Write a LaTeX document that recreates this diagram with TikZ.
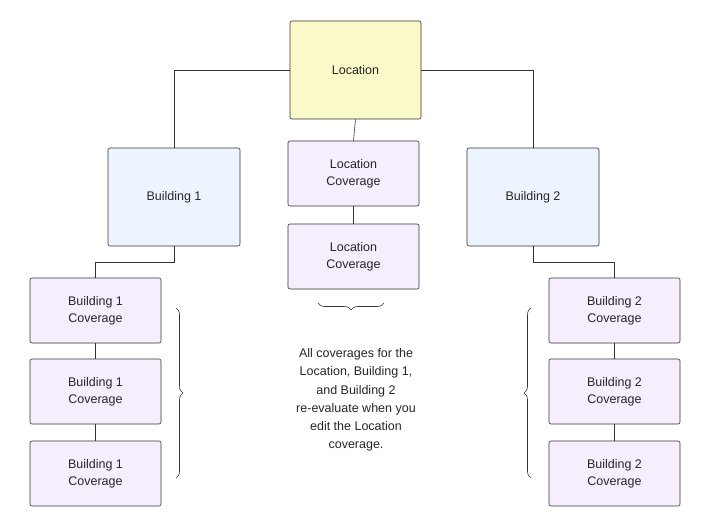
\documentclass[tikz,border=0pt]{standalone}
\usepackage{fontspec}
\setmainfont{Liberation Sans}
\usetikzlibrary{decorations.pathreplacing}
\definecolor{locfill}{HTML}{FAFAC8}
\definecolor{bldfill}{HTML}{EEF4FD}
\definecolor{covfill}{HTML}{F6EEFC}
\definecolor{edge}{HTML}{333333}
\begin{document}
\begin{tikzpicture}[x=1pt,y=-1pt,
  box/.style={draw=edge,line width=0.6pt,rounded corners=2pt,align=center,font=\fontsize{12.5}{17}\selectfont,text=black!85,inner sep=0pt},
  loc/.style={box,fill=locfill,minimum width=131pt,minimum height=98pt},
  bld/.style={box,fill=bldfill,minimum width=132pt,minimum height=98pt},
  cov/.style={box,fill=covfill,minimum width=131pt,minimum height=65pt},
  conn/.style={draw=edge,line width=0.6pt},
  br/.style={draw=edge,line width=0.6pt,decorate,decoration={brace,amplitude=7pt}}]
\useasboundingbox (0,0) rectangle (720,532);
\node[loc] (L) at (355.5,70) {Location};
\node[bld] (B1) at (174,197) {Building 1};
\node[bld] (B2) at (533,197) {Building 2};
\node[cov] (LC1) at (353.5,173.5) {Location\\Coverage};
\node[cov] (LC2) at (353.5,256.5) {Location\\Coverage};
\node[cov] (A1) at (95.5,310.5) {Building 1\\Coverage};
\node[cov] (A2) at (95.5,391.5) {Building 1\\Coverage};
\node[cov] (A3) at (95.5,473.5) {Building 1\\Coverage};
\node[cov] (C1) at (614.5,310.5) {Building 2\\Coverage};
\node[cov] (C2) at (614.5,391.5) {Building 2\\Coverage};
\node[cov] (C3) at (614.5,473.5) {Building 2\\Coverage};
\draw[conn] (L.west) -| (B1.north);
\draw[conn] (L.east) -| (B2.north);
\draw[conn] (L.south) -- (LC1.north);
\draw[conn] (LC1) -- (LC2);
\draw[conn] (B1.south) -- ++(0,16) -| (A1.north);
\draw[conn] (B2.south) -- ++(0,16) -| (C1.north);
\draw[conn] (A1) -- (A2) (A2) -- (A3);
\draw[conn] (C1) -- (C2) (C2) -- (C3);
\coordinate (bt1) at (384,303); \coordinate (bt2) at (318,303);
\draw[br] (bt1) -- (bt2);
\coordinate (bl1) at (176,308); \coordinate (bl2) at (176,478);
\draw[br] (bl1) -- (bl2);
\coordinate (bc1) at (531,478); \coordinate (bc2) at (531,308);
\draw[br] (bc1) -- (bc2);
\node[align=center,font=\fontsize{12.5}{18.2}\selectfont,text=black!85] (T) at (356,400)
 {All coverages for the\\Location, Building 1,\\and Building 2\\re-evaluate when you\\edit the Location\\coverage.};
\end{tikzpicture}
\end{document}
